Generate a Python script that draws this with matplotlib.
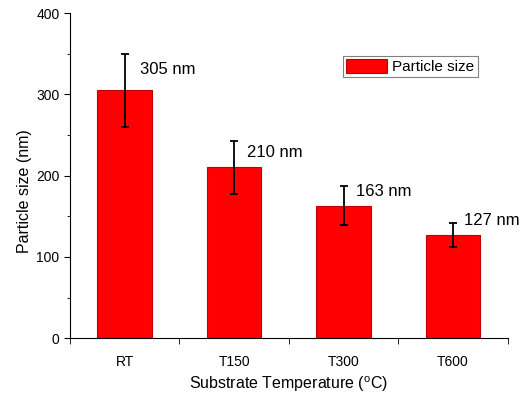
import matplotlib
matplotlib.use('Agg')
import matplotlib.pyplot as plt
from matplotlib.ticker import MultipleLocator, FixedLocator
import numpy as np

plt.rcParams['font.family'] = ['Liberation Sans', 'DejaVu Sans']
plt.rcParams['mathtext.fontset'] = 'custom'
plt.rcParams['mathtext.rm'] = 'Liberation Sans'

# 데이터
samples = ['RT', 'T150', 'T300', 'T600']
sizes = [305, 210, 163, 127]
errors = [45, 32, 24, 15]
labels = ['305 nm', '210 nm', '163 nm', '127 nm']
label_y = [330, 228, 180, 145]  # 라벨 높이 (데이터 단위)

fig = plt.figure(figsize=(5.29, 3.96), dpi=100)
ax = fig.add_axes([0.132, 0.146, 0.828, 0.821])

x = np.arange(len(samples))
ax.bar(x, sizes, width=0.5, color='#ff0000', edgecolor='#c00000', linewidth=0.8,
       label='Particle size', zorder=2)
ax.errorbar(x, sizes, yerr=errors, fmt='none', ecolor='black', elinewidth=1.3,
            capsize=3, capthick=1.3, zorder=3)

# 막대 위 라벨
for xi, ly, t, dx in zip(x, label_y, labels, [0.14, 0.12, 0.11, 0.1]):
    ax.text(xi + dx, ly, t, fontsize=12, ha='left', va='center')

ax.set_xlim(-0.5, 3.5)
ax.set_ylim(0, 400)
ax.set_xticks(x)
ax.set_xticklabels(samples, fontsize=10)
ax.xaxis.set_minor_locator(FixedLocator([-0.5, 0.5, 1.5, 2.5, 3.5]))
ax.tick_params(axis='x', which='major', length=0, pad=12)
ax.tick_params(axis='x', which='minor', length=4, direction='out')
ax.yaxis.set_major_locator(MultipleLocator(100))
ax.yaxis.set_minor_locator(MultipleLocator(50))
ax.tick_params(axis='y', which='major', length=4, direction='out', labelsize=10)
ax.tick_params(axis='y', which='minor', length=2.5, direction='out')

ax.spines['top'].set_visible(False)
ax.spines['right'].set_visible(False)

ax.set_xlabel(r'Substrate Temperature ($^{\mathrm{o}}$C)', fontsize=11.5, labelpad=4)
ax.set_ylabel('Particle size (nm)', fontsize=11.5)
ax.yaxis.set_label_coords(-0.087, 0.452)

leg = ax.legend(loc='upper left', bbox_to_anchor=(0.623, 0.868), fontsize=11,
                fancybox=False, edgecolor='#808080', framealpha=1,
                handlelength=2.7, handleheight=1.0, borderpad=0.2,
                handletextpad=0.35, borderaxespad=0)
leg.get_frame().set_linewidth(0.8)

fig.savefig('out.png', dpi=100)
